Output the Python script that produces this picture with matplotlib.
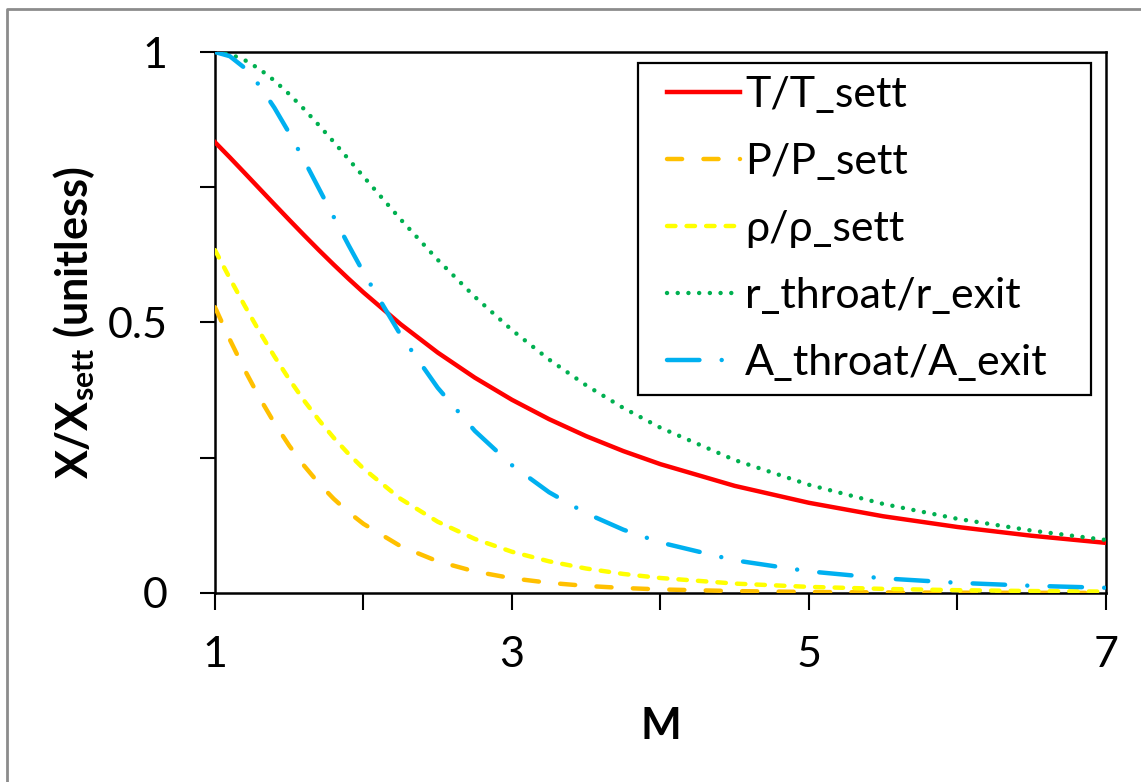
import matplotlib
matplotlib.use("Agg")
import matplotlib.pyplot as plt
from matplotlib.lines import Line2D
from matplotlib.patches import Rectangle

# Mach number and ratios
mach = [1.0, 1.1, 1.2, 1.3, 1.4, 1.5, 1.6, 1.7, 1.8, 1.9, 2.0, 2.25, 2.5, 2.75, 3.0,
        3.25, 3.5, 3.75, 4.0, 4.5, 5.0, 5.5, 6.0, 6.5, 7.0]
t_ratio = [0.8333, 0.8052, 0.7764, 0.7474, 0.7184, 0.6897, 0.6614, 0.6337, 0.6068, 0.5807,
           0.5556, 0.4969, 0.4444, 0.3980, 0.3571, 0.3213, 0.2899, 0.2623, 0.2381, 0.1980,
           0.1667, 0.1418, 0.1220, 0.1058, 0.0926]
p_ratio = [0.5283, 0.4684, 0.4124, 0.3609, 0.3142, 0.2724, 0.2353, 0.2026, 0.1740, 0.1492,
           0.1278, 0.0865, 0.0585, 0.0398, 0.0272, 0.0188, 0.0131, 0.0092, 0.0066, 0.0035,
           0.0019, 0.0011, 0.0006, 0.0004, 0.0002]
rho_ratio = [0.6339, 0.5817, 0.5311, 0.4829, 0.4374, 0.3950, 0.3557, 0.3197, 0.2868, 0.2570,
             0.2300, 0.1740, 0.1317, 0.0999, 0.0762, 0.0585, 0.0452, 0.0352, 0.0277, 0.0174,
             0.0113, 0.0076, 0.0052, 0.0036, 0.0026]
r_ratio = [1.0, 0.9961, 0.9851, 0.9685, 0.9471, 0.9221, 0.8944, 0.8646, 0.8337, 0.8017,
           0.7698, 0.6907, 0.6159, 0.5474, 0.4860, 0.4315, 0.3838, 0.3420, 0.3055, 0.2458,
           0.2000, 0.1646, 0.1371, 0.1153, 0.0980]
a_ratio = [1.0, 0.9922, 0.9705, 0.9379, 0.8970, 0.8502, 0.8000, 0.7475, 0.6950, 0.6428,
           0.5926, 0.4770, 0.3793, 0.2996, 0.2362, 0.1862, 0.1473, 0.1170, 0.0933, 0.0604,
           0.0400, 0.0271, 0.0188, 0.0133, 0.0096]

labels = ["T/T_sett", "P/P_sett", "\u03c1/\u03c1_sett", "r_throat/r_exit", "A_throat/A_exit"]
x_ticks = [1, 3, 5, 7]
y_ticks = [0, 0.5, 1]

plt.rcParams['font.family'] = ['Lato', 'DejaVu Sans']

fig = plt.figure(figsize=(11.41, 7.82), dpi=100)
ax = fig.add_axes([0.1884, 0.2417, 0.9693 - 0.1884, 0.9335 - 0.2417])

lw = 3.2
ax.plot(mach, t_ratio, color='#FF0000', lw=lw, label=labels[0], zorder=3)
ax.plot(mach, p_ratio, color='#FFC000', lw=lw, dashes=(3.4, 4.8), dash_capstyle='round',
        label=labels[1], zorder=3)
ax.plot(mach, rho_ratio, color='#FFFF00', lw=lw, dashes=(1.9, 2.5), dash_capstyle='round',
        label=labels[2], zorder=3)
ax.plot(mach, r_ratio, color='#00B050', lw=lw, dashes=(0.01, 2.4), dash_capstyle='round',
        label=labels[3], zorder=3)
ax.plot(mach, a_ratio, color='#00B0F0', lw=lw, dashes=(7.3, 5.0, 0.01, 5.0), dash_capstyle='round',
        label=labels[4], zorder=3)

ax.set_xlim(1, 7)
ax.set_ylim(0, 1)
ax.set_xticks(x_ticks)
ax.set_xticks([2, 4, 6], minor=True)
ax.set_yticks(y_ticks)
ax.set_yticks([0.25, 0.75], minor=True)
ax.set_yticklabels(['0', '0.5', '1'])
ax.tick_params(axis='x', which='both', direction='out', length=12, width=1.5, color='black')
ax.tick_params(axis='y', which='both', direction='out', length=11, width=1.5, color='black')
ax.tick_params(axis='y', which='major', labelsize=31, pad=23)
ax.tick_params(axis='x', which='major', labelsize=31, pad=19)
for s in ax.spines.values():
    s.set_linewidth(1.8)
    s.set_color('black')

ax.set_xlabel('M', fontsize=31, fontweight='bold', labelpad=23)
ax.set_ylabel(r'X/X$_{\mathregular{sett}}$ (unitless)', fontsize=31, fontweight='bold', labelpad=8)

# legend box drawn separately so its padding can match the original
ax.add_patch(Rectangle((0.4747, 0.366), 0.5085, 0.6137, transform=ax.transAxes,
                       facecolor='white', edgecolor='black', lw=1.6, zorder=4.5))
leg = ax.legend(loc='upper left', bbox_to_anchor=(0.5073, 0.9553), fontsize=31, frameon=False,
                handlelength=1.7, handletextpad=0.12, labelspacing=0.67,
                borderpad=0, borderaxespad=0)
leg.set_zorder(5)

# outer chart border (only the left and top edges are inside the image)
fig.add_artist(Line2D([7 / 1141, 7 / 1141, 1.0], [0.0, 1 - 9 / 782, 1 - 9 / 782],
                      transform=fig.transFigure, color='#8c8c8c', lw=2))

fig.savefig('out.png', dpi=100)
